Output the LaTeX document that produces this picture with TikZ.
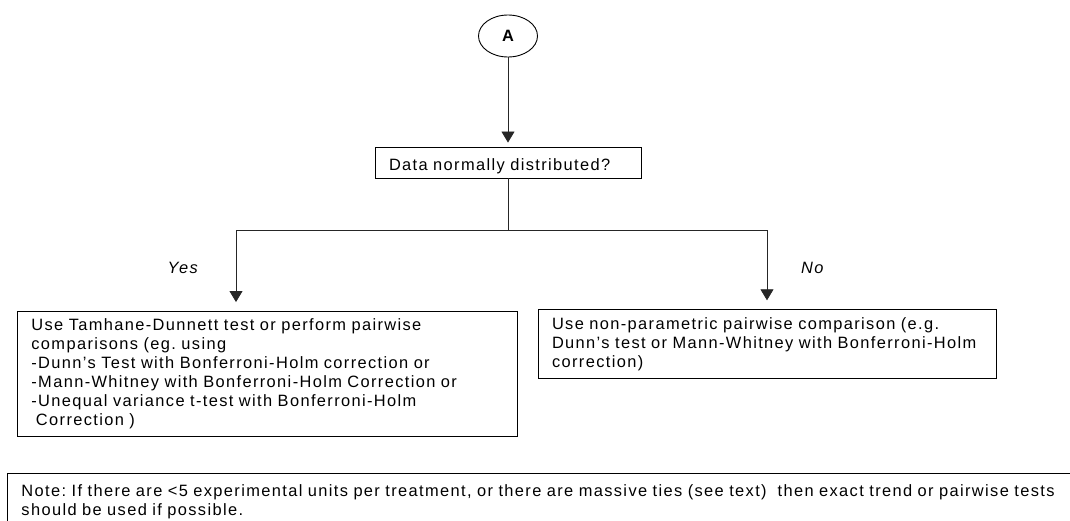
\documentclass[tikz,border=0pt]{standalone}
\usepackage{fontspec}
\setmainfont{Liberation Sans}[LetterSpace=8.4]
\usetikzlibrary{arrows.meta,shapes.geometric}
\begin{document}
\frenchspacing
\begin{tikzpicture}[x=1pt,y=-1pt,
  txt/.style={font=\fontsize{16.4}{19}\selectfont},
  box/.style={txt,draw=black,line width=0.9pt,rectangle,align=left,inner xsep=14pt,inner ysep=0pt},
  conn/.style={draw=black!85,line width=0.8pt},
  arr/.style={conn,-{Triangle[length=11pt,width=13pt]}},
  lbl/.style={font=\fontsize{16.4}{19}\selectfont\itshape,inner sep=0pt}]
\useasboundingbox (0,0) rectangle (1070,520);
\clip (0,0) rectangle (1070,520);
\node[ellipse,draw=black,line width=0.9pt,minimum width=59pt,minimum height=42pt,inner sep=0pt,
      font=\fontsize{16.4}{19}\selectfont\bfseries] (A) at (508,36) {A};
\node[box,minimum height=31pt,text width=238pt,text height=17pt,text depth=1pt] (q) at (508,162.5) {\mbox{Data normally distributed?}};
\node[box,minimum height=125pt,text width=472pt] (L) at (267.4,374)
  {\mbox{Use Tamhane-Dunnett test or perform pairwise}\\
   \mbox{comparisons (eg. using}\\
   \mbox{-Dunn’s Test with Bonferroni-Holm correction or}\\
   \mbox{-Mann-Whitney with Bonferroni-Holm Correction or}\\
   \mbox{-Unequal variance t-test with Bonferroni-Holm}\\
   \mbox{\hspace*{0.28em}Correction )}};
\node[box,minimum height=68.5pt,text width=430pt] (R) at (767,344)
  {\mbox{Use non-parametric pairwise comparison (e.g.}\\
   \mbox{Dunn’s test or Mann-Whitney with Bonferroni-Holm}\\
   \mbox{correction)}};
\node[box,anchor=north west,inner ysep=12pt,text width=1100pt] (N) at (7,472.5)
  {\mbox{Note: If there are <5 experimental units per treatment, or there are massive ties (see text)\ \ then exact trend or pairwise tests}\\
   \mbox{should be used if possible.}};
\node[lbl,anchor=east] (yes) at (198,268) {Yes};
\node[lbl,anchor=west] (no) at (801,268) {No};
\coordinate (j) at (508,230);
\coordinate (jl) at (236,230);
\coordinate (jr) at (767,230);
\draw[arr,shorten >=4pt] (A.south) -- (q.north);
\draw[conn] (q.south) -- (j);
\draw[conn] (jl) -- (jr);
\draw[arr,shorten >=9pt] (jl) -- (jl |- L.north);
\draw[arr,shorten >=9pt] (jr) -- (R.north);
\end{tikzpicture}
\end{document}
